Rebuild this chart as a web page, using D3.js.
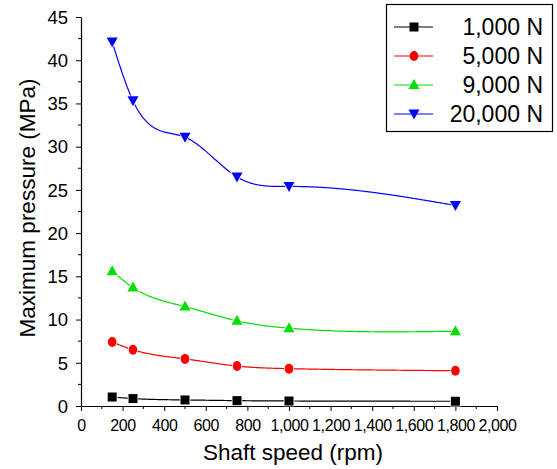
<!DOCTYPE html>
<html><head><meta charset="utf-8">
<script src="https://cdn.jsdelivr.net/npm/d3@7"></script>
<style>
html,body{margin:0;padding:0;background:#fff;}
svg{display:block;font-family:"Liberation Sans",Arial,sans-serif;}
</style></head>
<body><svg id="c" width="557" height="469"></svg>
<script>
const speeds = [150, 250, 500, 750, 1000, 1800];
const seriesNames = ["1,000 N", "5,000 N", "9,000 N", "20,000 N"];
const load1000 = [1.04, 0.86, 0.70, 0.62, 0.58, 0.55];
const load5000 = [7.4, 6.5, 5.45, 4.62, 4.32, 4.08];
const load9000 = [15.6, 13.7, 11.5, 9.85, 9.0, 8.65];
const load20000 = [42.1, 35.3, 31.1, 26.5, 25.4, 23.2];
const xTicks = [0, 200, 400, 600, 800, 1000, 1200, 1400, 1600, 1800, 2000];
const yTicks = [0, 5, 10, 15, 20, 25, 30, 35, 40, 45];

const colors = ["#000000", "#ff0000", "#00e000", "#0000ff"];
const shapes = ["square", "circle", "up", "down"];
const allSeries = [load1000, load5000, load9000, load20000];

const svg = d3.select("#c");
const x = d3.scaleLinear().domain([0, 2000]).range([81, 497]);
const y = d3.scaleLinear().domain([0, 45]).range([406, 17]);

// axes
const fmt = d3.format(",");
const xAxis = d3.axisBottom(x).tickValues(xTicks).tickFormat(fmt).tickSize(5).tickSizeOuter(0).tickPadding(4);
const gx = svg.append("g").attr("transform", "translate(0,406)").call(xAxis);
gx.selectAll("text").attr("font-size", 16).attr("fill", "#000").attr("dy", null).attr("y", 25)
  .attr("letter-spacing", -0.4).style("font-family", "Liberation Sans, Arial, sans-serif");
const xMinor = d3.range(100, 2000, 200);
gx.selectAll(".minor").data(xMinor).enter().append("line").attr("class", "minor")
  .attr("x1", d => x(d)).attr("x2", d => x(d)).attr("y1", 0).attr("y2", 3).attr("stroke", "#000");

const yAxis = d3.axisLeft(y).tickValues(yTicks).tickSize(5).tickSizeOuter(0).tickPadding(8);
const gy = svg.append("g").attr("transform", "translate(81,0)").call(yAxis);
gy.selectAll("text").attr("font-size", 18.5).attr("fill", "#000").attr("dy", "0.34em").style("font-family", "Liberation Sans, Arial, sans-serif");
const yMinor = d3.range(2.5, 45, 5);
gy.selectAll(".minor").data(yMinor).enter().append("line").attr("class", "minor")
  .attr("y1", d => y(d)).attr("y2", d => y(d)).attr("x1", 0).attr("x2", -3).attr("stroke", "#000");
svg.selectAll(".domain").attr("stroke", "#000").attr("stroke-width", 1.2);
svg.selectAll(".tick line").attr("stroke", "#000");

// titles
svg.append("text").attr("x", 293).attr("y", 460).attr("text-anchor", "middle")
  .attr("font-size", 22.5).text("Shaft speed (rpm)");
svg.append("text").attr("transform", "translate(35,208) rotate(-90)").attr("text-anchor", "middle")
  .attr("font-size", 22.5).text("Maximum pressure (MPa)");

function marker(g, shape, color) {
  if (shape === "square") {
    g.append("rect").attr("x", -4.5).attr("y", -4.5).attr("width", 9).attr("height", 9);
  } else if (shape === "circle") {
    g.append("ellipse").attr("rx", 4.3).attr("ry", 5);
  } else if (shape === "up") {
    g.append("path").attr("d", "M0,-6 L5.5,4 L-5.5,4 Z");
  } else {
    g.append("path").attr("d", "M0,5.5 L5.5,-4.5 L-5.5,-4.5 Z");
  }
  g.selectAll("*").attr("fill", color).attr("stroke", "#fff").attr("stroke-width", 1.5).attr("paint-order", "stroke");
}

// natural cubic spline y(x) through the data points (drawing aid only)
function splineSampler(xs, ys) {
  const n = xs.length, h = [], al = [0], l = [1], mu = [0], z = [0], c = new Array(n).fill(0), b = [], d = [];
  for (let i = 0; i < n - 1; i++) h.push(xs[i + 1] - xs[i]);
  for (let i = 1; i < n - 1; i++) al.push(3 / h[i] * (ys[i + 1] - ys[i]) - 3 / h[i - 1] * (ys[i] - ys[i - 1]));
  for (let i = 1; i < n - 1; i++) {
    l[i] = 2 * (xs[i + 1] - xs[i - 1]) - h[i - 1] * mu[i - 1];
    mu[i] = h[i] / l[i];
    z[i] = (al[i] - h[i - 1] * z[i - 1]) / l[i];
  }
  for (let j = n - 2; j >= 0; j--) {
    c[j] = (j < n - 2 ? z[j] - mu[j] * c[j + 1] : z[j] - mu[j] * c[j + 1]);
    if (j === 0) c[0] = 0;
    b[j] = (ys[j + 1] - ys[j]) / h[j] - h[j] * (c[j + 1] + 2 * c[j]) / 3;
    d[j] = (c[j + 1] - c[j]) / (3 * h[j]);
  }
  return function (xv) {
    let i = 0;
    while (i < n - 2 && xv > xs[i + 1]) i++;
    const t = xv - xs[i];
    return ys[i] + b[i] * t + c[i] * t * t + d[i] * t * t * t;
  };
}

const line = d3.line().x(d => x(d[0])).y(d => y(d[1]));

allSeries.forEach((vals, i) => {
  const pts = speeds.map((s, j) => [s, vals[j]]);
  const f = splineSampler(speeds, vals);
  const lo = speeds[0], hi = speeds[speeds.length - 1];
  const curve = d3.range(0, 301).map(k => { const xv = lo + (hi - lo) * k / 300; return [xv, f(xv)]; });
  const g = svg.append("g");
  g.append("path").attr("d", line(curve)).attr("fill", "none").attr("stroke", colors[i]).attr("stroke-width", 1.2);
  pts.forEach(p => {
    const m = g.append("g").attr("transform", `translate(${x(p[0])},${y(p[1])})`);
    marker(m, shapes[i], colors[i]);
  });
});

// legend
const lg = svg.append("g");
lg.append("rect").attr("x", 386.5).attr("y", 4.5).attr("width", 166).attr("height", 127)
  .attr("fill", "#fff").attr("stroke", "#000").attr("stroke-width", 1.2);
seriesNames.forEach((name, i) => {
  const ry = 27 + i * 29;
  lg.append("line").attr("x1", 394).attr("x2", 433).attr("y1", ry).attr("y2", ry)
    .attr("stroke", colors[i]).attr("stroke-width", 1.2);
  const m = lg.append("g").attr("transform", `translate(414,${ry})`);
  marker(m, shapes[i], colors[i]);
  m.selectAll("*").attr("stroke", "none");
  lg.append("text").attr("x", 543).attr("y", ry + 8.3).attr("text-anchor", "end")
    .attr("font-size", 23).text(name);
});
</script></body></html>
